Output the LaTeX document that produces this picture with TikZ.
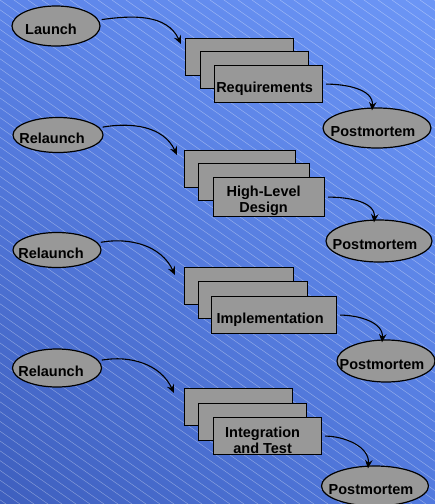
\documentclass[tikz,border=0pt]{standalone}
\usepackage{fontspec}
\setmainfont{Liberation Sans}
\usetikzlibrary{arrows.meta,positioning,shapes.geometric,shadings}

\definecolor{bgUL}{RGB}{92,132,232}
\definecolor{bgUR}{RGB}{108,150,246}
\definecolor{bgLL}{RGB}{62,95,190}
\definecolor{bgLR}{RGB}{82,122,222}
\definecolor{shapegray}{RGB}{152,152,152}

\begin{document}
\begin{tikzpicture}[x=1pt,y=-1pt,
   phase/.style={ellipse, draw, fill=shapegray, line width=1.2pt, inner sep=0pt},
   stagebox/.style={rectangle, draw, fill=shapegray, line width=1.2pt, inner sep=0pt,
      anchor=north west, minimum width=108pt, minimum height=37pt},
   txt/.style={font=\fontsize{14.5}{16}\selectfont\bfseries, align=center, inner sep=0pt},
   flow/.style={-{Stealth[length=8.5pt,width=7.5pt,inset=3pt]}, line width=1.1pt, shorten <=3pt},
   stripe/.style={white, opacity=0.35, line width=0.5pt}]
   \useasboundingbox (0,0) rectangle (435,504);
   \shade[upper left=bgUL, upper right=bgUR, lower left=bgLL, lower right=bgLR]
      (0,0) rectangle (435,504);
   \begin{scope}
      \clip (0,0) rectangle (435,504);
      \foreach \i in {-728,-714,...,440}
         \draw[stripe] (\i,0) -- ++(720,504);
   \end{scope}

   % Requirements
   \node[phase, minimum width=88pt, minimum height=40pt,
         label={[txt, xshift=-5pt, yshift=-3pt]center:Launch}] (launch) at (56,26) {};
   \node[stagebox] (req1) at (185,38) {};
   \node[stagebox] (req2) [below right=13pt and 15pt of req1.north west] {};
   \node[stagebox, label={[txt, xshift=-4pt, yshift=-4.5pt]center:Requirements}]
         (req3) [below right=14pt and 14pt of req2.north west] {};
   \node[phase, minimum width=108pt, minimum height=40pt,
         label={[txt, xshift=-4pt, yshift=-4pt]center:Postmortem}] (pm1) at (377,128) {};

   % High-Level Design
   \node[phase, minimum width=90pt, minimum height=35pt,
         label={[txt, xshift=-6pt, yshift=-3pt]center:Relaunch}] (rl2) at (58,135) {};
   \node[stagebox, minimum width=111pt] (hld1) at (184,150) {};
   \node[stagebox, minimum width=111pt] (hld2) [below right=13pt and 14pt of hld1.north west] {};
   \node[stagebox, minimum width=111pt, minimum height=39pt,
         label={[txt, xshift=-5.5pt, yshift=-3.5pt]center:High-Level\\Design}]
         (hld3) [below right=14pt and 15pt of hld2.north west] {};
   \node[phase, minimum width=106pt, minimum height=42pt,
         label={[txt, xshift=-4pt, yshift=-4pt]center:Postmortem}] (pm2) at (379,241) {};

   % Implementation
   \node[phase, minimum width=88pt, minimum height=35pt,
         label={[txt, xshift=-6pt, yshift=-3pt]center:Relaunch}] (rl3) at (57,250) {};
   \node[stagebox, minimum width=109pt] (imp1) at (184,267) {};
   \node[stagebox, minimum width=109pt] (imp2) [below right=14pt and 14pt of imp1.north west] {};
   \node[stagebox, minimum width=125pt,
         label={[txt, xshift=-4pt, yshift=-4.5pt]center:Implementation}]
         (imp3) [below right=15pt and 13pt of imp2.north west] {};
   \node[phase, minimum width=98pt, minimum height=42pt,
         label={[txt, xshift=-4pt, yshift=-4pt]center:Postmortem}] (pm3) at (386,361) {};

   % Integration and Test
   \node[phase, minimum width=89pt, minimum height=38pt,
         label={[txt, xshift=-6pt, yshift=-3pt]center:Relaunch}] (rl4) at (57,368) {};
   \node[stagebox] (int1) at (184,388) {};
   \node[stagebox] (int2) [below right=15pt and 14pt of int1.north west] {};
   \node[stagebox, label={[txt, xshift=-5pt, yshift=-4pt]center:Integration\\and Test}]
         (int3) [below right=14pt and 15pt of int2.north west] {};
   \node[phase, minimum width=107pt, minimum height=40pt,
         label={[txt, xshift=-4pt, yshift=-4pt]center:Postmortem}] (pm4) at (375,486) {};

   \path[flow]
   (launch) edge[out=8,in=115] ([shift={(-4pt,-6pt)}]req1.north west)
   (req3) edge[out=0,in=85] ([shift={(-5pt,-3pt)}]pm1.north)
   (rl2) edge[out=10,in=115] ([shift={(-7pt,-5pt)}]hld1.north west)
   (hld3) edge[out=0,in=85] ([shift={(-5pt,-3pt)}]pm2.north)
   (rl3) edge[out=10,in=115] ([shift={(-9pt,-8pt)}]imp1.north west)
   (imp3) edge[out=0,in=85] ([shift={(-4pt,-3pt)}]pm3.north)
   (rl4) edge[out=10,in=115] ([shift={(-10pt,-5pt)}]int1.north west)
   (int3) edge[out=0,in=85] ([shift={(-7pt,-3pt)}]pm4.north);
\end{tikzpicture}
\end{document}
